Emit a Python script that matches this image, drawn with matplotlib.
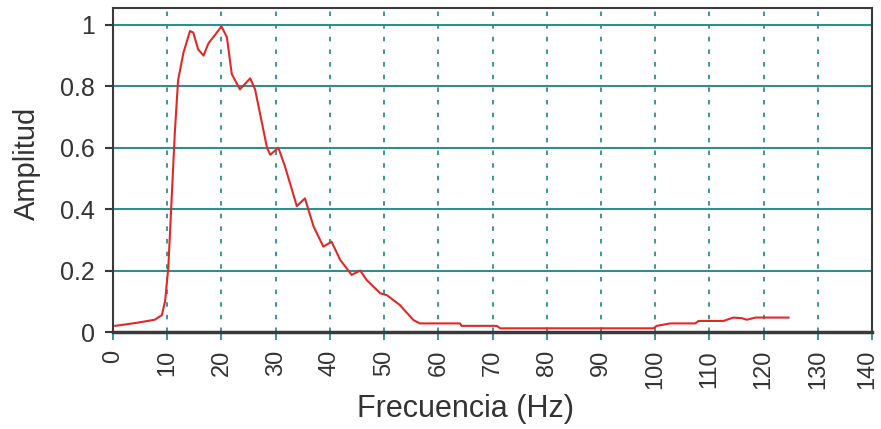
import matplotlib.pyplot as plt
import matplotlib.transforms as mtransforms

plt.rcParams['font.family'] = ['Liberation Sans', 'DejaVu Sans']

# espectro de amplitud
freq = [0.4, 4.4, 7.7, 9.0, 9.6, 10.2, 10.8, 11.4, 12.0, 13.0, 14.2, 14.8, 15.7, 16.7,
        17.6, 18.8, 20.0, 21.0, 21.9, 23.4, 25.3, 26.2, 28.4, 29.0, 30.5, 31.7, 33.9,
        35.4, 37.0, 38.8, 40.3, 41.9, 44.0, 45.6, 46.8, 49.3, 50.5, 52.9, 55.4, 56.6,
        64.0, 64.3, 70.8, 71.4, 99.7, 100.3, 102.8, 107.4, 108.0, 112.6, 114.4, 116.0,
        116.9, 118.5, 124.6]
amp = [0.02, 0.03, 0.04, 0.055, 0.10, 0.21, 0.43, 0.65, 0.82, 0.91, 0.98, 0.975, 0.92, 0.90,
       0.94, 0.967, 0.995, 0.96, 0.84, 0.79, 0.826, 0.79, 0.60, 0.577, 0.60, 0.54, 0.41,
       0.435, 0.343, 0.278, 0.294, 0.235, 0.186, 0.20, 0.169, 0.126, 0.12, 0.088, 0.039, 0.028,
       0.028, 0.02, 0.02, 0.012, 0.012, 0.02, 0.028, 0.028, 0.036, 0.036, 0.047, 0.045,
       0.04, 0.047, 0.047]

xticks = list(range(0, 141, 10))
yticks = [0, 0.2, 0.4, 0.6, 0.8, 1]
ylabels = ['0', '0.2', '0.4', '0.6', '0.8', '1']

teal = '#2f8f8f'
frame = '#3a3a3a'
txt = '#333333'

fig = plt.figure(figsize=(8.81, 4.29), dpi=100)
ax = fig.add_axes([0.1283, 0.2261, 0.8615, 0.7553])

for y in yticks[1:]:
    ax.axhline(y, color=teal, lw=1.5, zorder=1)
for x in xticks[1:-1]:
    ax.axvline(x, color=teal, lw=1.3, ls=(0, (2.5, 4.5)), zorder=1)

ax.plot(freq, amp, color='#e02828', lw=1.5, zorder=3)

ax.set_xlim(0, 140)
ax.set_ylim(0, 1.055)
ax.set_xticks(xticks)
ax.set_xticklabels([str(x) for x in xticks], rotation=90)
ax.set_yticks(yticks)
ax.set_yticklabels(ylabels)
ax.tick_params(axis='x', colors=teal, length=6, width=1.3, labelsize=17, labelcolor=txt, pad=7)
ax.tick_params(axis='y', colors=frame, length=6, width=1.5, labelsize=18, labelcolor=txt, pad=7)

# la ultima etiqueta queda pegada al borde: moverla un poco a la izquierda
last = ax.get_xticklabels()[-1]
last.set_transform(last.get_transform() + mtransforms.ScaledTranslation(-0.05, 0, fig.dpi_scale_trans))

for s in ax.spines.values():
    s.set_color(frame)
    s.set_linewidth(1.5)
ax.spines['bottom'].set_linewidth(2.5)

ax.set_xlabel('Frecuencia (Hz)', fontsize=22, color=txt)
ax.xaxis.set_label_coords(0.465, -0.19)
ax.set_ylabel('Amplitud', fontsize=21, color=txt)
ax.yaxis.set_label_coords(-0.095, 0.52)

fig.savefig('out.png', dpi=100)
